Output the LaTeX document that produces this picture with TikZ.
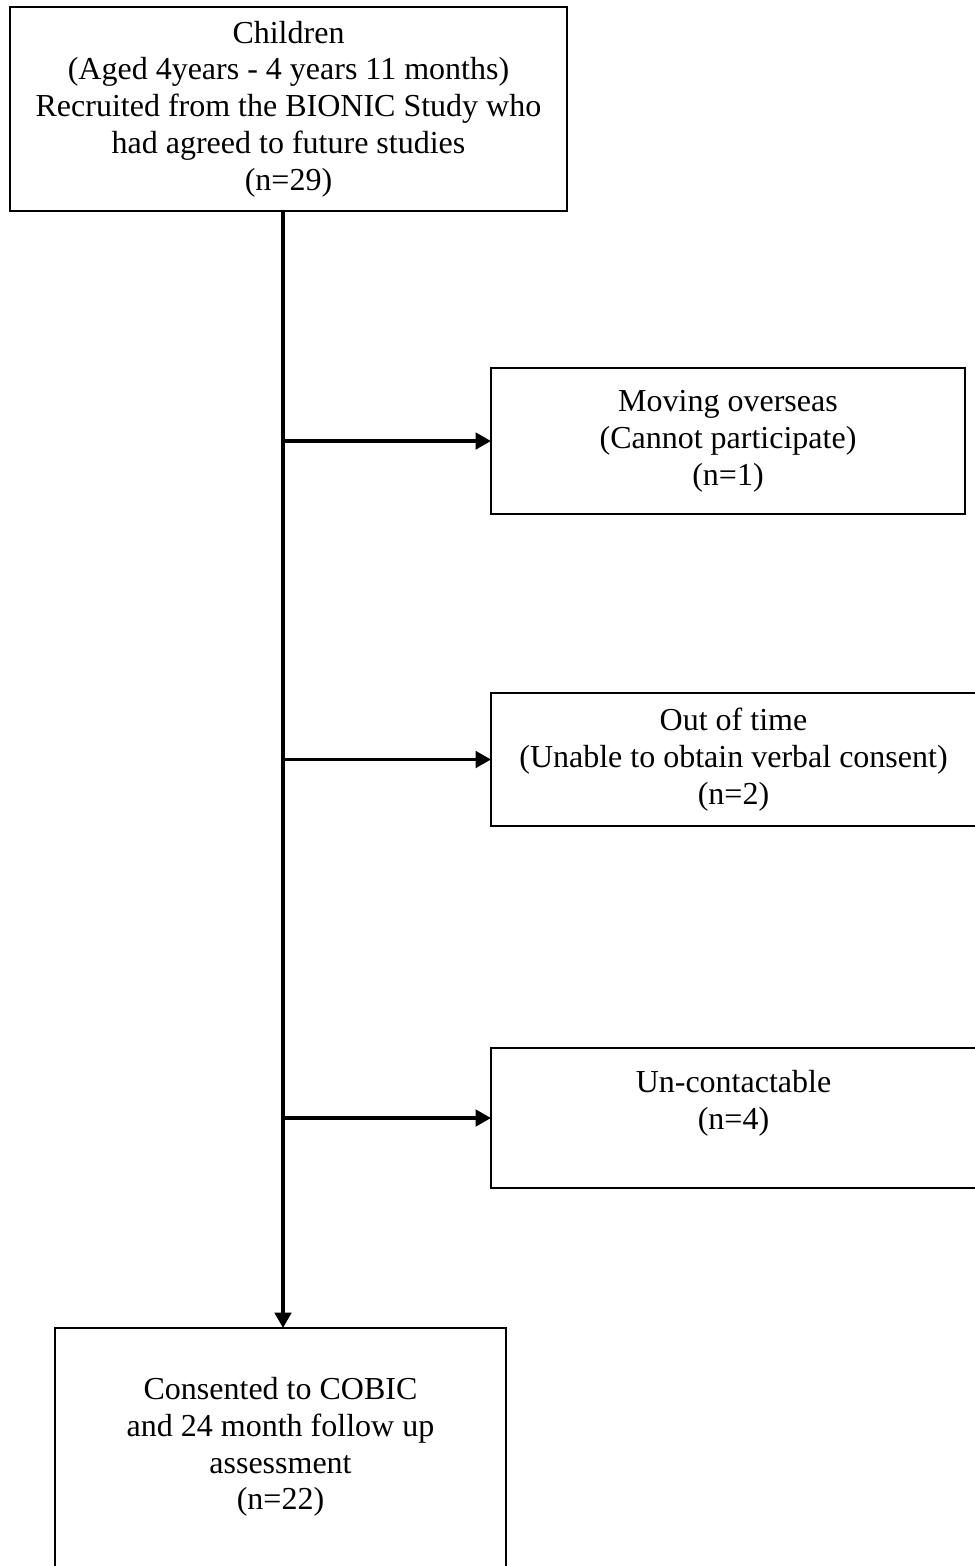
\documentclass[tikz,border=0pt]{standalone}
\usepackage{fontspec}
\setmainfont{Liberation Serif}
\usetikzlibrary{arrows.meta,positioning}

\tikzset{
	box/.style={draw,line width=.8pt,align=center,inner sep=0pt,outer sep=0pt,font=\fontsize{12}{13.8}\selectfont},
	flow/.style={line width=1.25pt,-{Triangle[length=5.8pt,width=6.2pt]}}
}

\begin{document}
\begin{tikzpicture}[x=.375pt,y=-.375pt]
			\fill[white] (0,0) rectangle (974,1566);
			\useasboundingbox (0,0) rectangle (974,1566);
			% boxes
			\node[box,minimum width=557*.375pt,minimum height=204*.375pt] (recruited) at (288.5,109) {Children\\(Aged 4years - 4 years 11 months)\\Recruited from the BIONIC Study who\\had agreed to future studies\\(n=29)};
			\node[box,minimum width=474*.375pt,minimum height=146*.375pt] (lost1) at (728,441) {Moving overseas\\(Cannot participate)\\(n=1)};
			\node[box,minimum width=485*.375pt,minimum height=133*.375pt] (lost2) at (733.5,759.5) {Out of time\\(Unable to obtain verbal consent)\\(n=2)};
			\node[box,minimum width=485*.375pt,minimum height=140*.375pt] (lost3) at (733.5,1118) {Un-contactable\\(n=4)\\~};
			\node[box,minimum width=451*.375pt,minimum height=268*.375pt] (consent) at (280.5,1462) {Consented to COBIC\\and 24 month follow up\\assessment\\(n=22)\\~};
			% connectors
			\coordinate (trunk) at (283,211);
			\draw[flow] (trunk) -- (trunk |- consent.north);
			\foreach \b in {lost1,lost2,lost3} \draw[flow] (trunk |- \b.west) -- (\b.west);
		\end{tikzpicture}
\end{document}
